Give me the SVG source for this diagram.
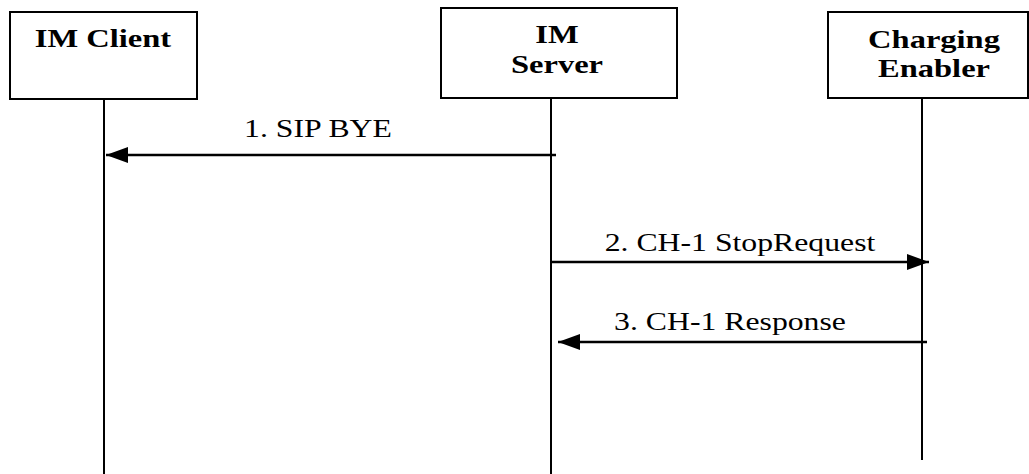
<svg xmlns="http://www.w3.org/2000/svg" width="1029" height="474" viewBox="0 0 1029 474">
<style>
.box{fill:#fff;stroke:#000;stroke-width:2}
.life{stroke:#000;stroke-width:2;fill:none}
.msg{stroke:#000;stroke-width:2.5;fill:none}
.hd{font-family:"Liberation Serif",serif;font-weight:bold;font-size:26px;fill:#000}
.lb{font-family:"Liberation Serif",serif;font-size:25px;fill:#000}
</style>
<defs>
<marker id="ah2" viewBox="0 0 22 16" refX="22" refY="8" markerWidth="22" markerHeight="16" markerUnits="userSpaceOnUse" orient="auto">
<path d="M0,0 L22,8 L0,16 Z" fill="#000"/>
</marker>
</defs>
<rect width="1029" height="474" fill="#fff"/>
<g id="client">
<rect class="box" x="10" y="12" width="187" height="87"/>
<text class="hd" transform="translate(103,47) scale(1.25,1)" text-anchor="middle">IM Client</text>
<line class="life" x1="104" y1="99" x2="104" y2="474"/>
</g>
<g id="server">
<rect class="box" x="441" y="8" width="236" height="90"/>
<text class="hd" transform="translate(557,43) scale(1.25,1)" text-anchor="middle">IM</text>
<text class="hd" transform="translate(557,73) scale(1.25,1)" text-anchor="middle">Server</text>
<line class="life" x1="551" y1="98" x2="551" y2="474"/>
</g>
<g id="enabler">
<rect class="box" x="828" y="12" width="200" height="86"/>
<text class="hd" transform="translate(934,48) scale(1.25,1)" text-anchor="middle">Charging</text>
<text class="hd" transform="translate(934,77) scale(1.25,1)" text-anchor="middle">Enabler</text>
<line class="life" x1="922" y1="98" x2="922" y2="460"/>
</g>
<g id="connectors">
<line class="msg" x1="556" y1="155" x2="106" y2="155" marker-end="url(#ah2)"/>
<text class="lb" transform="translate(318,137) scale(1.27,1)" text-anchor="middle">1. SIP BYE</text>
<line class="msg" x1="551" y1="262" x2="929" y2="262" marker-end="url(#ah2)"/>
<text class="lb" transform="translate(740,251) scale(1.27,1)" text-anchor="middle">2. CH-1 StopRequest</text>
<line class="msg" x1="927" y1="342" x2="558" y2="342" marker-end="url(#ah2)"/>
<text class="lb" transform="translate(730,330) scale(1.27,1)" text-anchor="middle">3. CH-1 Response</text>
</g>
</svg>
